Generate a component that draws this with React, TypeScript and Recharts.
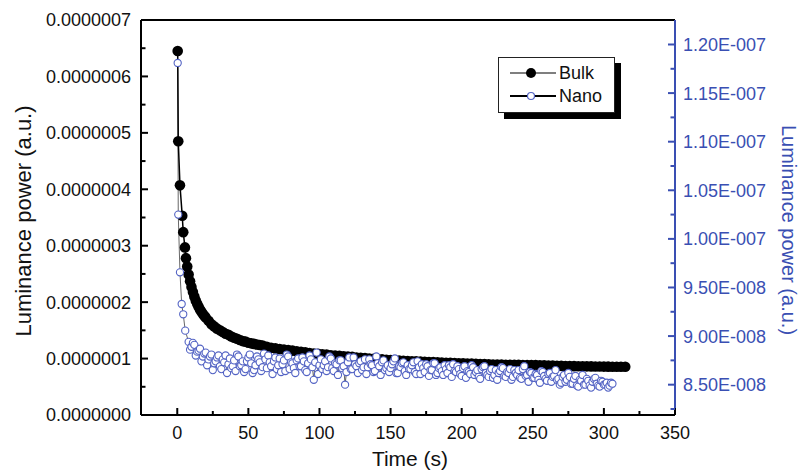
import React from 'react';
import { LineChart, Line, XAxis, YAxis, ReferenceLine, Legend } from 'recharts';

// Bulk: time (s) and luminance power in units of 1e-7 a.u. (left axis)
const bulkTime = [
  0.3, 0.7, 1.9, 3.5, 4.2, 5.4, 6.1, 7, 8, 9, 10, 11, 12, 13, 14, 15, 16, 17, 18, 19, 20,
  22, 24, 26, 28, 30, 32, 34, 36, 38, 40, 42, 44, 46, 48, 50, 52, 54, 56, 58, 60,
  63, 66, 69, 72, 75, 78, 81, 84, 87, 90, 93, 96, 99, 102, 105, 108, 111, 114, 117, 120,
  123, 126, 129, 132, 135, 138, 141, 144, 147, 150, 153, 156, 159, 162, 165, 168, 171, 174, 177, 180,
  183, 186, 189, 192, 195, 198, 201, 204, 207, 210, 213, 216, 219, 222, 225, 228, 231, 234, 237, 240,
  243, 246, 249, 252, 255, 258, 261, 264, 267, 270, 273, 276, 279, 282, 285, 288, 291, 294, 297, 300,
  303, 306, 309, 312, 315,
];
const bulkValue = [
  6.45, 4.85, 4.07, 3.53, 3.24, 2.97, 2.78, 2.63, 2.49, 2.37, 2.27, 2.18, 2.1, 2.03, 1.97, 1.92, 1.87, 1.83, 1.79, 1.76, 1.73,
  1.67, 1.61, 1.57, 1.53, 1.5, 1.47, 1.44, 1.42, 1.39, 1.37, 1.35, 1.33, 1.31, 1.3, 1.28, 1.27, 1.26, 1.25, 1.24, 1.23,
  1.21, 1.19, 1.18, 1.17, 1.16, 1.15, 1.14, 1.13, 1.12, 1.11, 1.1, 1.09, 1.085, 1.075, 1.07, 1.06, 1.055, 1.05, 1.04, 1.035,
  1.03, 1.02, 1.015, 1.01, 1.0, 0.995, 0.99, 0.985, 0.98, 0.975, 0.97, 0.965, 0.96, 0.955, 0.952, 0.95, 0.946, 0.943, 0.94, 0.937,
  0.934, 0.93, 0.927, 0.924, 0.921, 0.918, 0.915, 0.912, 0.91, 0.907, 0.904, 0.901, 0.898, 0.895, 0.894, 0.893, 0.891, 0.89, 0.889, 0.888,
  0.887, 0.886, 0.885, 0.883, 0.881, 0.879, 0.877, 0.875, 0.873, 0.871, 0.869, 0.867, 0.866, 0.865, 0.864, 0.862, 0.861, 0.86, 0.859, 0.858,
  0.857, 0.856, 0.855, 0.855, 0.854,
];

// Nano: time (s) and luminance power in units of 1e-8 a.u. (right axis)
const nanoTimeA = [
  0.3, 0.7, 1.9, 3.1, 4.2, 5.6,
  8, 10, 12, 14, 16, 18, 20, 22, 24, 26, 28, 30, 32, 34, 36, 38, 40, 42, 44, 46, 48, 50,
  52, 54, 56, 58, 60, 62, 64, 66, 68, 70, 72, 74, 76, 78, 80, 82, 84, 86, 88, 90, 92, 94, 96, 98, 100,
  102, 104, 106, 108, 110, 112, 114, 116, 118, 120, 122, 124, 126, 128, 130, 132, 134, 136, 138, 140, 142, 144, 146, 148, 150,
  152, 154, 156, 158, 160, 162, 164, 166, 168, 170, 172, 174, 176, 178, 180, 182, 184, 186, 188, 190, 192, 194, 196, 198, 200,
  202, 204, 206, 208, 210, 212, 214, 216, 218, 220, 222, 224, 226, 228, 230, 232, 234, 236, 238, 240, 242, 244, 246, 248, 250,
  252, 254, 256, 258, 260, 262, 264, 266, 268, 270, 272, 274, 276, 278, 280, 282, 284, 286, 288, 290, 292, 294, 296, 298, 300,
  302, 304, 306,
];
const nanoValueA = [
  11.81, 10.25, 9.656, 9.33, 9.224, 9.056,
  8.94, 8.89, 8.91, 8.84, 8.87, 8.79, 8.83, 8.76, 8.81, 8.72, 8.78, 8.69, 8.76, 8.8, 8.71, 8.67, 8.75, 8.81, 8.69, 8.74, 8.66, 8.78,
  8.72, 8.65, 8.79, 8.73, 8.68, 8.76, 8.8, 8.69, 8.74, 8.66, 8.77, 8.71, 8.64, 8.79, 8.73, 8.67, 8.75, 8.69, 8.78, 8.65, 8.72, 8.76, 8.55, 8.83, 8.7,
  8.66, 8.74, 8.68, 8.77, 8.64, 8.71, 8.75, 8.67, 8.5, 8.73, 8.66, 8.78, 8.69, 8.72, 8.65, 8.76, 8.68, 8.71, 8.63, 8.79, 8.69, 8.73, 8.65, 8.7, 8.67,
  8.74, 8.62, 8.69, 8.72, 8.64, 8.7, 8.66, 8.73, 8.61, 8.68, 8.71, 8.63, 8.69, 8.65, 8.72, 8.6, 8.67, 8.64, 8.7, 8.62, 8.68, 8.71, 8.63, 8.66, 8.59,
  8.69, 8.64, 8.61, 8.68, 8.63, 8.58, 8.66, 8.69, 8.6, 8.64, 8.57, 8.65, 8.62, 8.68, 8.59, 8.63, 8.66, 8.58, 8.62, 8.65, 8.56, 8.69, 8.6, 8.63, 8.57,
  8.61, 8.55, 8.64, 8.59, 8.54, 8.62, 8.58, 8.65, 8.56, 8.52, 8.6, 8.55, 8.58, 8.51, 8.59, 8.48, 8.54, 8.5, 8.56, 8.49, 8.53, 8.57, 8.49, 8.54, 8.5,
  8.52, 8.49, 8.51,
];
const nanoTimeB = [
  9, 11, 13, 15, 17, 19, 21, 23, 25, 27,
  29, 31, 33, 35, 37, 39, 41, 43, 45, 47,
  49, 51, 53, 55, 57, 59, 61, 63, 65, 67,
  69, 71, 73, 75, 77, 79, 81, 83, 85, 87,
  89, 91, 93, 95, 97, 99, 101, 103, 105, 107,
  109, 111, 113, 115, 117, 119, 121, 123, 125, 127,
  129, 131, 133, 135, 137, 139, 141, 143, 145, 147,
  149, 151, 153, 155, 157, 159, 161, 163, 165, 167,
  169, 171, 173, 175, 177, 179, 181, 183, 185, 187,
  189, 191, 193, 195, 197, 199, 201, 203, 205, 207,
  209, 211, 213, 215, 217, 219, 221, 223, 225, 227,
  229, 231, 233, 235, 237, 239, 241, 243, 245, 247,
  249, 251, 253, 255, 257, 259, 261, 263, 265, 267,
  269, 271, 273, 275, 277, 279, 281, 283, 285, 287,
  289, 291, 293, 295, 297, 299, 301, 303, 305,
];
const nanoValueB = [
  8.86, 8.93, 8.8, 8.85, 8.74, 8.82, 8.7, 8.79, 8.65, 8.74,
  8.8, 8.66, 8.73, 8.62, 8.77, 8.69, 8.64, 8.79, 8.7, 8.63,
  8.74, 8.81, 8.62, 8.7, 8.76, 8.64, 8.82, 8.67, 8.73, 8.61,
  8.78, 8.7, 8.63, 8.75, 8.81, 8.66, 8.72, 8.62, 8.77, 8.69,
  8.74, 8.63, 8.8, 8.68, 8.73, 8.61, 8.76, 8.7, 8.64, 8.79,
  8.67, 8.72, 8.6, 8.75, 8.69, 8.63, 8.78, 8.66, 8.71, 8.62,
  8.74, 8.68, 8.61, 8.76, 8.7, 8.64, 8.72, 8.6, 8.75, 8.67,
  8.63, 8.71, 8.77, 8.62, 8.68, 8.73, 8.6, 8.66, 8.7, 8.63,
  8.74, 8.61, 8.67, 8.71, 8.59, 8.65, 8.72, 8.62, 8.68, 8.6,
  8.66, 8.7, 8.58, 8.64, 8.69, 8.61, 8.67, 8.57, 8.63, 8.7,
  8.6, 8.65, 8.56, 8.68, 8.62, 8.58, 8.66, 8.6, 8.55, 8.64,
  8.67, 8.58, 8.62, 8.55, 8.65, 8.6, 8.57, 8.66, 8.59, 8.53,
  8.62, 8.57, 8.6, 8.52, 8.63, 8.56, 8.61, 8.53, 8.59, 8.55,
  8.5, 8.58, 8.53, 8.62, 8.51, 8.56, 8.49, 8.55, 8.6, 8.5,
  8.54, 8.47, 8.56, 8.51, 8.48, 8.53, 8.5, 8.47, 8.52,
];

const xTicks = [0, 25, 50, 75, 100, 125, 150, 175, 200, 225, 250, 275, 300, 325, 350];
const leftTicks = [0, 0.5, 1, 1.5, 2, 2.5, 3, 3.5, 4, 4.5, 5, 5.5, 6, 6.5, 7];
const rightTicks = [8.25, 8.5, 8.75, 9, 9.25, 9.5, 9.75, 10, 10.25, 10.5, 10.75, 11, 11.25, 11.5, 11.75, 12];

const bulkData = bulkTime.map((t, i) => ({ t, v: bulkValue[i] }));
const nanoData = [
  ...nanoTimeA.map((t, i) => ({ t, v: nanoValueA[i] })),
  ...nanoTimeB.map((t, i) => ({ t, v: nanoValueB[i] })),
].sort((a, b) => a.t - b.t);

const FONT = '"Liberation Sans", Arial, Helvetica, sans-serif';
const BLUE = '#3a4fb3';
const CIRCLE = '#5363c4';

const fmtLeft = (v: number) => (v * 1e-7).toFixed(7);
const fmtRight = (v: number) => {
  const s = (v * 1e-8).toExponential(2);
  const [m, e] = s.split('e');
  const n = parseInt(e, 10);
  return `${m}E${n < 0 ? '-' : '+'}${String(Math.abs(n)).padStart(3, '0')}`;
};

const LeftTick = (props: any) => {
  const { x, y, payload } = props;
  const v = payload.value;
  const major = Math.abs(v - Math.round(v)) < 1e-6;
  return (
    <g>
      <line x1={x} y1={y} x2={x + (major ? 7 : 4.5)} y2={y} stroke="#000" strokeWidth={2} />
      {major && (
        <text x={x - 10} y={y} dy="0.36em" textAnchor="end" fontSize={18} fontFamily={FONT} fill="#111">
          {fmtLeft(v)}
        </text>
      )}
    </g>
  );
};

const RightTick = (props: any) => {
  const { x, y, payload } = props;
  const v = payload.value;
  const major = Math.abs(v * 2 - Math.round(v * 2)) < 1e-6;
  return (
    <g>
      <line x1={x} y1={y} x2={x - (major ? 7 : 4.5)} y2={y} stroke={BLUE} strokeWidth={2} />
      {major && (
        <text x={x + 8} y={y} dy="0.36em" textAnchor="start" fontSize={18} fontFamily={FONT} fill={BLUE}>
          {fmtRight(v)}
        </text>
      )}
    </g>
  );
};

const BottomTick = (props: any) => {
  const { x, y, payload } = props;
  const v = payload.value;
  const major = v % 50 === 0;
  return (
    <g>
      <line x1={x} y1={y} x2={x} y2={y - (major ? 7 : 4)} stroke="#000" strokeWidth={2} />
      {major && (
        <text x={x} y={y + 23.5} textAnchor="middle" fontSize={18} fontFamily={FONT} fill="#111">
          {v}
        </text>
      )}
    </g>
  );
};

const LeftTitle = () => (
  <text
    x={31}
    y={221}
    transform="rotate(-90 31 221)"
    textAnchor="middle"
    fontSize={22}
    fontFamily={FONT}
    fill="#111"
  >
    Luminance power (a.u.)
  </text>
);

const RightTitle = () => (
  <text
    x={782}
    y={230}
    transform="rotate(90 782 230)"
    textAnchor="middle"
    fontSize={20}
    fontFamily={FONT}
    fill={BLUE}
  >
    Luminance power (a.u.)
  </text>
);

const BottomTitle = () => (
  <text x={410} y={466} textAnchor="middle" fontSize={21} fontFamily={FONT} fill="#111">
    Time (s)
  </text>
);

const LegendBox = () => (
  <svg width={126} height={66} style={{ display: 'block', overflow: 'visible' }}>
    <rect x={6} y={6} width={117} height={56} fill="#000" />
    <rect x={0.5} y={0.5} width={116} height={55} fill="#fff" stroke="#222" strokeWidth={1} />
    <line x1={12} y1={16} x2={58} y2={16} stroke="#000" strokeWidth={1.2} />
    <circle cx={33} cy={16} r={5} fill="#000" />
    <text x={61} y={16} dy="0.36em" fontSize={18} fontFamily={FONT} fill="#111">
      Bulk
    </text>
    <line x1={12} y1={39} x2={58} y2={39} stroke="#000" strokeWidth={2.2} />
    <circle cx={33} cy={39} r={3.5} fill="#fff" stroke={CIRCLE} strokeWidth={1.2} />
    <text x={61} y={39} dy="0.36em" fontSize={18} fontFamily={FONT} fill="#111">
      Nano
    </text>
  </svg>
);

export default function App() {
  return (
    <div style={{ position: 'absolute', left: 0, top: 0, width: 800, height: 472, background: '#fff' }}>
      <LineChart width={800} height={472} margin={{ top: 20, right: 0, bottom: 0, left: 0 }}>
        <XAxis
          type="number"
          dataKey="t"
          domain={[-25.5, 350]}
          ticks={xTicks}
          interval={0}
          height={57}
          axisLine={{ stroke: '#000', strokeWidth: 2 }}
          tickLine={false}
          tickSize={0}
          tickMargin={0}
          tick={<BottomTick />}
          label={<BottomTitle />}
        />
        <YAxis
          yAxisId="left"
          orientation="left"
          type="number"
          domain={[0, 7]}
          ticks={leftTicks}
          interval={0}
          width={141}
          axisLine={{ stroke: '#000', strokeWidth: 2 }}
          tickLine={false}
          tickSize={0}
          tickMargin={0}
          tick={<LeftTick />}
          label={<LeftTitle />}
        />
        <YAxis
          yAxisId="right"
          orientation="right"
          type="number"
          domain={[8.188, 12.252]}
          ticks={rightTicks}
          interval={0}
          width={125}
          axisLine={{ stroke: BLUE, strokeWidth: 2 }}
          tickLine={false}
          tickSize={0}
          tickMargin={0}
          tick={<RightTick />}
          label={<RightTitle />}
        />
        <ReferenceLine yAxisId="left" y={7} stroke="#000" strokeWidth={2} />
        <Legend
          layout="vertical"
          align="center"
          verticalAlign="middle"
          wrapperStyle={{ left: 498, top: 57, width: 126, height: 66 }}
          content={() => <LegendBox />}
        />
        <Line
          name="Bulk"
          data={bulkData}
          dataKey="v"
          yAxisId="left"
          type="linear"
          stroke="#000"
          strokeWidth={1.5}
          dot={{ r: 5.3, fill: '#000', stroke: '#000', strokeWidth: 0 }}
          activeDot={false}
          isAnimationActive={false}
        />
        <Line
          name="Nano"
          data={nanoData}
          dataKey="v"
          yAxisId="right"
          type="linear"
          stroke="#000"
          strokeWidth={0.6}
          dot={{ r: 3.6, fill: '#fff', stroke: CIRCLE, strokeWidth: 1.1 }}
          activeDot={false}
          isAnimationActive={false}
        />
      </LineChart>
    </div>
  );
}
